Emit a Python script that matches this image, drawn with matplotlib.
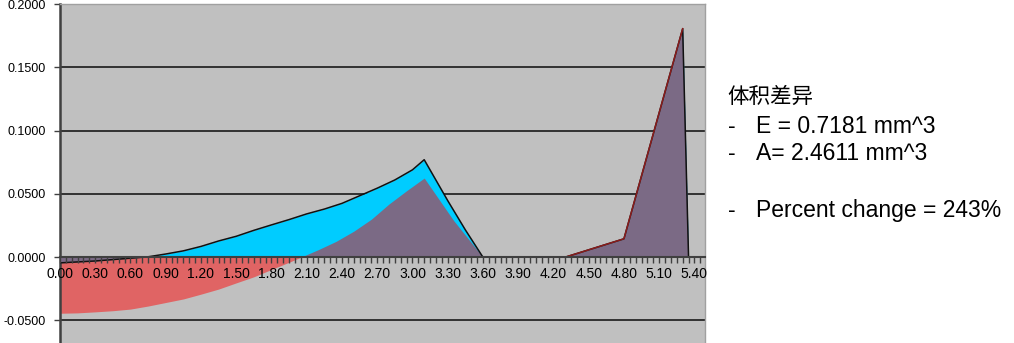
import numpy as np
import matplotlib.pyplot as plt
from matplotlib.ticker import MultipleLocator, FixedLocator

# Step 1: Data
##############################
# Series E (cyan area with black outline)
e_x = [0.00, 0.30, 0.60, 0.75, 0.90, 1.05, 1.20, 1.35, 1.50, 1.65, 1.80, 1.95,
       2.10, 2.25, 2.40, 2.55, 2.70, 2.85, 3.00, 3.10, 3.30, 3.45, 3.60,
       3.90, 4.20, 4.30, 4.80, 5.30, 5.35]
e_y = [-0.0045, -0.0030, -0.0008, 0.0003, 0.0025, 0.0050, 0.0085, 0.0128, 0.0165,
       0.0212, 0.0255, 0.0297, 0.0342, 0.0380, 0.0425, 0.0485, 0.0545, 0.0610,
       0.0690, 0.0770, 0.0447, 0.0216, 0.0,
       0.0, 0.0, 0.0, 0.0145, 0.1805, 0.0]

# Series A (red where negative, purple where positive)
a_x = [0.00, 0.15, 0.30, 0.45, 0.60, 0.75, 0.90, 1.05, 1.20, 1.35, 1.50, 1.65,
       1.80, 1.95, 2.05, 2.20, 2.35, 2.50, 2.65, 2.80, 2.95, 3.10, 3.35, 3.60,
       3.90, 4.20, 4.30, 4.80, 5.30, 5.35]
a_y = [-0.0443, -0.0440, -0.0432, -0.0423, -0.0410, -0.0386, -0.0358, -0.0330,
       -0.0292, -0.0252, -0.0203, -0.0155, -0.0097, -0.0040, 0.0, 0.0060, 0.0125,
       0.0205, 0.0300, 0.0420, 0.0525, 0.0625, 0.0290, 0.0,
       0.0, 0.0, 0.0, 0.0145, 0.1805, 0.0]
spike_start = 26   # index in a_x where the right-hand spike begins

x_ticks = [0.00, 0.30, 0.60, 0.90, 1.20, 1.50, 1.80, 2.10, 2.40, 2.70, 3.00,
           3.30, 3.60, 3.90, 4.20, 4.50, 4.80, 5.10, 5.40]
y_ticks = [-0.05, 0.0, 0.05, 0.10, 0.15, 0.20]

note_title = "体积差异"
note_lines = ["E = 0.7181 mm^3", "A= 2.4611 mm^3", "Percent change = 243%"]
note_baselines = [133, 160, 217]   # pixel rows of each line

# Step 2: Figure setup
##############################
plt.rcParams['font.family'] = ['Liberation Sans', 'Noto Sans CJK SC', 'DejaVu Sans']

W, H = 1014, 343
fig = plt.figure(figsize=(W / 100, H / 100), dpi=100)
ax = fig.add_axes([60 / W, 0, 645 / W, (H - 4) / H])
ax.set_facecolor('#c0c0c0')
ax.set_xlim(0, 5.49)
ax.set_ylim(-0.0678, 0.2)

ex, ey = np.array(e_x), np.array(e_y)
ax_, ay = np.array(a_x), np.array(a_y)

cyan = '#00ccff'
purple = '#7b6a85'
red = '#e06464'

# Step 3: Areas
##############################
ax.fill_between(ex, 0, np.maximum(ey, 0), color=cyan, lw=0, zorder=2)
ax.fill_between(ax_, np.minimum(ay, 0), 0, color=red, lw=0, zorder=2)
ax.fill_between(ex, np.minimum(ey, 0), 0, color=purple, lw=0, zorder=3)
ax.fill_between(ax_, 0, np.maximum(ay, 0), color=purple, lw=0, zorder=3)

ax.plot(ex, ey, color='#111111', lw=1.1, zorder=4)
# dark red edge only shows on the rising side of the spike
ax.plot(ax_[spike_start:spike_start + 3], ay[spike_start:spike_start + 3],
        color='#8b1c1c', lw=1.1, zorder=5)

# Step 4: Axes styling
##############################
ax.yaxis.set_major_locator(FixedLocator(y_ticks))
ax.set_yticklabels([f"{v:.4f}" for v in y_ticks], fontsize=9)
ax.yaxis.grid(True, color='#1a1a1a', lw=1.2)
for val, gl in zip(y_ticks, ax.get_ygridlines()):
    if val in (0.0, 0.20):
        gl.set_visible(False)
ax.yaxis.set_zorder(1)

ax.xaxis.set_major_locator(FixedLocator(x_ticks))
ax.xaxis.set_minor_locator(MultipleLocator(0.05))
ax.set_xticklabels([f"{v:.2f}" for v in x_ticks], fontsize=9)
ax.xaxis.set_zorder(7)   # tick labels sit on top of the red area

ax.spines['bottom'].set_position(('data', 0))
ax.spines['bottom'].set_color('#404040')
ax.spines['bottom'].set_linewidth(1.5)
ax.spines['bottom'].set_zorder(6)
ax.spines['left'].set_color('#404040')
ax.spines['left'].set_linewidth(1.8)
for s in ('top', 'right'):
    ax.spines[s].set_color('#a0a0a0')
    ax.spines[s].set_linewidth(1.0)

ax.tick_params(axis='x', which='both', direction='out', length=4, width=1,
               color='#404040', pad=3)
ax.tick_params(axis='y', direction='out', length=4, width=1, color='#404040', pad=6)

# Step 5: Side note
##############################
fig.text(727 / W, 1 - 97 / H, note_title, fontsize=15.5, va='center', ha='left',
         family=['Noto Sans CJK SC', 'DejaVu Sans'])
for line, base in zip(note_lines, note_baselines):
    fig.text(728 / W, 1 - base / H, "-", fontsize=16.5, va='baseline', ha='left')
    fig.text(756 / W, 1 - base / H, line, fontsize=16.5, va='baseline', ha='left')

plt.savefig("out.png", dpi=100)
plt.close()
